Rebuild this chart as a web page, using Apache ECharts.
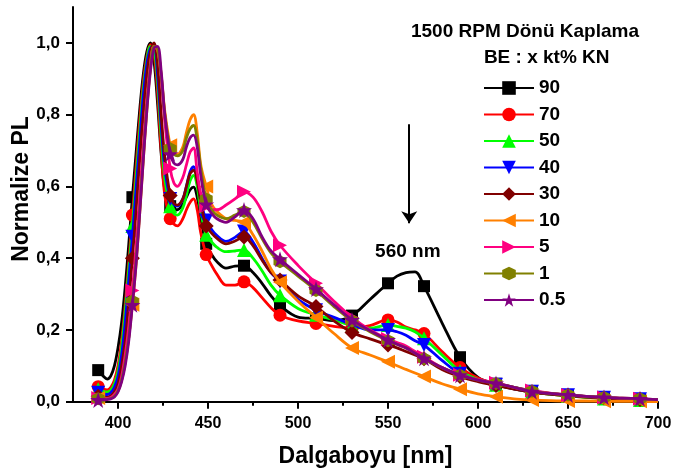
<!DOCTYPE html>
<html><head><meta charset="utf-8">
<script src="https://cdn.jsdelivr.net/npm/echarts@6/dist/echarts.min.js"></script>
<style>html,body{margin:0;padding:0;background:#fff}#c{width:675px;height:476px}</style>
</head><body><div id="c"></div>
<script>
// wavelength grid (nm)
const wavelength = [389,392,394,396,398, 400,402,404,406,408, 410,412,414,416,418, 420,422,424,426,429, 431,433,436,438,440, 442,444,446,449,452, 455,460,465,470,475, 480,485,490,500,510, 520,530,540,550,555, 560,565,570,580,590, 600,610,620,630,640, 650,660,670,680,690, 700];
// wavelengths carrying a marker
const markerNm = [389,408,429,449,470,490,510,530,550,570,590,610,630,650,670,690];

const seriesNames = ['90','70','50','40','30','10','5','1','0.5'];

const pl90 = [0.088,0.07,0.063,0.072,0.10, 0.15,0.22,0.32,0.44,0.57, 0.69,0.81,0.91,0.975,1.0, 0.95,0.83,0.69,0.59,0.545, 0.535,0.535,0.55,0.57,0.59, 0.598,0.57,0.51,0.44,0.41, 0.39,0.372,0.378,0.379,0.36, 0.33,0.295,0.268,0.236,0.232, 0.226,0.24,0.285,0.33,0.35, 0.36,0.362,0.322,0.22,0.124, 0.068,0.05,0.04,0.03,0.023, 0.018,0.014,0.011,0.008,0.006, 0.004];
const pl70 = [0.042,0.035,0.033,0.04,0.06, 0.10,0.17,0.27,0.39,0.52, 0.65,0.78,0.89,0.96,0.995, 0.97,0.86,0.70,0.575,0.51, 0.495,0.49,0.51,0.535,0.555, 0.565,0.535,0.47,0.41,0.38, 0.355,0.325,0.325,0.334,0.318, 0.29,0.262,0.241,0.225,0.218, 0.21,0.205,0.212,0.228,0.222, 0.208,0.2,0.19,0.14,0.095, 0.066,0.048,0.036,0.027,0.021, 0.016,0.012,0.009,0.007,0.005, 0.003];
const pl50 = [0.035,0.028,0.027,0.032,0.05, 0.085,0.15,0.25,0.37,0.49, 0.62,0.75,0.87,0.95,0.99, 0.985,0.89,0.74,0.62,0.545, 0.525,0.52,0.54,0.575,0.615, 0.631,0.60,0.53,0.465,0.445, 0.43,0.418,0.42,0.423,0.40, 0.365,0.325,0.297,0.26,0.242, 0.228,0.212,0.205,0.214,0.21, 0.205,0.195,0.177,0.13,0.085, 0.062,0.047,0.036,0.027,0.021, 0.016,0.012,0.009,0.007,0.005, 0.003];
const pl40 = [0.025,0.02,0.02,0.025,0.04, 0.07,0.13,0.22,0.34,0.46, 0.59,0.72,0.85,0.94,0.985, 0.99,0.91,0.77,0.65,0.565, 0.55,0.545,0.565,0.60,0.64, 0.655,0.625,0.56,0.505,0.48, 0.463,0.447,0.458,0.474,0.445, 0.40,0.36,0.335,0.285,0.255, 0.235,0.215,0.20,0.20,0.195, 0.185,0.17,0.158,0.115,0.078, 0.06,0.047,0.036,0.028,0.022, 0.018,0.014,0.011,0.008,0.007, 0.005];
const pl30 = [0.015,0.012,0.012,0.016,0.028, 0.05,0.10,0.17,0.28,0.40, 0.53,0.67,0.80,0.91,0.975, 1.0,0.94,0.80,0.68,0.575, 0.553,0.548,0.565,0.60,0.635, 0.645,0.615,0.555,0.49,0.47, 0.455,0.44,0.448,0.459,0.435, 0.395,0.36,0.339,0.295,0.265, 0.225,0.193,0.175,0.158,0.15, 0.14,0.13,0.12,0.09,0.07, 0.056,0.045,0.035,0.027,0.021, 0.017,0.013,0.01,0.008,0.006, 0.004];
const pl10 = [0.01,0.008,0.008,0.01,0.015, 0.03,0.06,0.11,0.18,0.27, 0.38,0.52,0.67,0.81,0.93, 0.99,0.98,0.91,0.81,0.715, 0.695,0.69,0.71,0.75,0.785, 0.80,0.75,0.66,0.60,0.55, 0.53,0.51,0.505,0.50,0.465, 0.42,0.37,0.333,0.28,0.235, 0.19,0.15,0.13,0.111,0.10, 0.09,0.08,0.07,0.05,0.035, 0.022,0.014,0.008,0.005,0.003, 0.002,0.002,0.001,0.001,0.001, 0];
const pl5 = [0.01,0.008,0.009,0.012,0.02, 0.035,0.07,0.13,0.21,0.31, 0.43,0.57,0.71,0.84,0.94, 0.99,0.985,0.90,0.78,0.65, 0.61,0.60,0.625,0.66,0.695, 0.707,0.64,0.58,0.545,0.535, 0.535,0.548,0.565,0.585,0.57, 0.53,0.475,0.436,0.38,0.33, 0.28,0.235,0.20,0.175,0.165, 0.155,0.14,0.125,0.095,0.075, 0.062,0.053,0.04,0.031,0.024, 0.019,0.015,0.012,0.01,0.008, 0.006];
const pl1 = [0.008,0.007,0.007,0.009,0.015, 0.03,0.06,0.11,0.18,0.28, 0.39,0.53,0.68,0.82,0.93, 0.99,0.985,0.91,0.80,0.705, 0.69,0.685,0.70,0.735,0.76, 0.77,0.73,0.65,0.565,0.535, 0.52,0.51,0.52,0.53,0.50, 0.455,0.415,0.39,0.35,0.31, 0.265,0.225,0.195,0.17,0.16, 0.15,0.135,0.12,0.095,0.074, 0.06,0.051,0.04,0.029,0.023, 0.019,0.015,0.012,0.01,0.008, 0.006];
const pl05 = [0.005,0.005,0.006,0.008,0.013, 0.027,0.055,0.10,0.17,0.27, 0.38,0.52,0.67,0.81,0.92, 0.985,0.99,0.92,0.80,0.69, 0.665,0.66,0.675,0.71,0.735, 0.743,0.71,0.63,0.55,0.525, 0.51,0.50,0.515,0.534,0.51, 0.46,0.42,0.397,0.355,0.314, 0.27,0.228,0.198,0.172,0.16, 0.15,0.135,0.121,0.095,0.074, 0.06,0.051,0.04,0.028,0.023, 0.019,0.015,0.012,0.01,0.008, 0.006];

const xTickLabels = [400,450,500,550,600,650,700];
const xMinorTicks = [425,475,525,575,625,675];
const yTickLabels = [0,0.2,0.4,0.6,0.8,1.0];

const seriesValues = [pl90,pl70,pl50,pl40,pl30,pl10,pl5,pl1,pl05];
const seriesColors = ['#000000','#ff0000','#00ff00','#0000ff','#800000','#ff8000','#ff0080','#808000','#800080'];
const seriesSymbols = [
  'rect','circle','triangle',
  'path://M0,0 L10,0 L5,9 Z',
  'diamond',
  'path://M0,5 L9,0 L9,10 Z',
  'path://M0,0 L9,5 L0,10 Z',
  'path://M5,0 L9.33,2.5 L9.33,7.5 L5,10 L0.67,7.5 L0.67,2.5 Z',
  'path://M50,0 L61.8,35.4 L99,35.4 L69,57.3 L80.4,92.7 L50,70.8 L19.6,92.7 L31,57.3 L1,35.4 L38.2,35.4 Z'
];
const seriesSymbolSizes = [12,13,14,14,15,14,14,13,16];

const FONT = '"Liberation Sans", Arial, sans-serif';
const chart = echarts.init(document.getElementById('c'), null, {renderer:'canvas'});

const series = seriesNames.map((name, k) => {
  const s = {
    name: name,
    type: 'line',
    data: wavelength.map((w, i) => [w, seriesValues[k][i]]),
    smooth: 0.35,
    showSymbol: true,
    showAllSymbol: true,
    symbol: seriesSymbols[k],
    symbolSize: (val) => markerNm.indexOf(val[0]) >= 0 ? seriesSymbolSizes[k] : 0,
    lineStyle: {color: seriesColors[k], width: 2.8},
    itemStyle: {color: seriesColors[k], borderWidth: 0},
    emphasis: {disabled: true},
    z: 2 + k
  };
  if (k === 0) {
    s.markLine = {
      silent: true,
      symbol: ['none', 'arrow'],
      symbolSize: 12,
      lineStyle: {color: '#000', width: 2, type: 'solid'},
      label: {show: false},
      data: [[{coord: [561.8, 0.773]}, {coord: [561.8, 0.497]}]]
    };
    s.markPoint = {
      silent: true,
      symbol: 'circle',
      symbolSize: 0,
      label: {show: true, position: 'inside', formatter: '560 nm', fontFamily: FONT, fontWeight: 'bold', fontSize: 19, color: '#000'},
      data: [{coord: [561, 0.418]}]
    };
  }
  return s;
});

chart.setOption({
  animation: false,
  backgroundColor: '#fff',
  grid: {left: 73, right: 17, top: 7, bottom: 74.3, containLabel: false},
  xAxis: [{
    type: 'value', min: 375, max: 700, position: 'bottom',
    axisLine: {show: true, onZero: false, lineStyle: {color: '#000', width: 2}},
    axisTick: {show: true, length: 7, lineStyle: {color: '#000', width: 2}, customValues: xTickLabels},
    axisLabel: {customValues: xTickLabels, margin: 14, fontFamily: FONT, fontWeight: 'bold', fontSize: 16, color: '#000'},
    splitLine: {show: false}
  }, {
    type: 'value', min: 375, max: 700, position: 'bottom',
    axisLine: {show: false},
    axisTick: {show: true, length: 4, lineStyle: {color: '#000', width: 2}, customValues: xMinorTicks},
    axisLabel: {show: false},
    splitLine: {show: false}
  }],
  yAxis: {
    type: 'value', min: 0, max: 1.1,
    axisLine: {show: true, lineStyle: {color: '#000', width: 2}},
    axisTick: {show: true, length: 7, lineStyle: {color: '#000', width: 2}, customValues: yTickLabels},
    axisLabel: {customValues: yTickLabels, margin: 13, fontFamily: FONT, fontWeight: 'bold', fontSize: 17, color: '#000',
      formatter: v => v.toFixed(1).replace('.', ',')},
    splitLine: {show: false}
  },
  legend: {
    orient: 'vertical', left: 478, top: 73,
    itemWidth: 50, itemHeight: 17, itemGap: 6.5,
    data: seriesNames,
    textStyle: {fontFamily: FONT, fontWeight: 'bold', fontSize: 19, color: '#000', lineHeight: 20},
    selectedMode: false
  },
  graphic: [
    {type: 'text', x: 525, y: 32, style: {text: '1500 RPM Dönü Kaplama', font: 'bold 19px ' + FONT, fill: '#000', textAlign: 'center', textVerticalAlign: 'middle'}},
    {type: 'text', x: 546.7, y: 57.5, style: {text: 'BE : x kt% KN', font: 'bold 19px ' + FONT, fill: '#000', textAlign: 'center', textVerticalAlign: 'middle'}},
    {type: 'text', x: 365.5, y: 457, style: {text: 'Dalgaboyu [nm]', font: 'bold 23px ' + FONT, fill: '#000', textAlign: 'center', textVerticalAlign: 'middle'}},
    {type: 'text', x: 21.5, y: 189, rotation: Math.PI / 2, style: {text: 'Normalize PL', font: 'bold 23px ' + FONT, fill: '#000', textAlign: 'center', textVerticalAlign: 'middle'}}
  ],
  series: series
});
</script></body></html>
